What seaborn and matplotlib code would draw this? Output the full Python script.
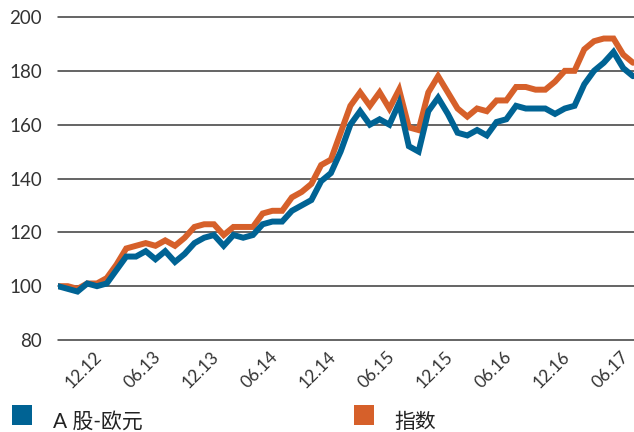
import matplotlib
matplotlib.use("Agg")
import matplotlib.pyplot as plt
import matplotlib.transforms as mtransforms
from matplotlib.lines import Line2D
import numpy as np
import pandas as pd
import seaborn as sns

# Monthly index levels, Aug 2012 - Jul 2017 (rebased to 100)
a_share_eur = [100, 99, 98, 101, 100, 101, 106, 111, 111, 113,
               110, 113, 109, 112, 116, 118, 119, 115, 119, 118,
               119, 123, 124, 124, 128, 130, 132, 139, 142, 150,
               160, 165, 160, 162, 160, 168, 152, 150, 165, 170,
               164, 157, 156, 158, 156, 161, 162, 167, 166, 166,
               166, 164, 166, 167, 175, 180, 183, 187, 181, 178]
index_level = [100, 100, 99, 101, 101, 103, 108, 114, 115, 116,
               115, 117, 115, 118, 122, 123, 123, 119, 122, 122,
               122, 127, 128, 128, 133, 135, 138, 145, 147, 157,
               167, 172, 167, 172, 166, 173, 159, 158, 172, 178,
               172, 166, 163, 166, 165, 169, 169, 174, 174, 173,
               173, 176, 180, 180, 188, 191, 192, 192, 186, 183]

series_names = ["A 股-欧元", "指数"]
series_colors = ["#006394", "#D6602A"]

tick_labels = ["12.12", "06.13", "12.13", "06.14", "12.14",
               "06.15", "12.15", "06.16", "12.16", "06.17"]
first_tick_month = 4   # Dec 2012 is the 5th month of the series
tick_step = 6
y_ticks = [80, 100, 120, 140, 160, 180, 200]

months = np.arange(len(a_share_eur))
df = pd.DataFrame({
    "month": np.concatenate([months, months]),
    "value": a_share_eur + index_level,
    "series": [series_names[0]] * len(months) + [series_names[1]] * len(months),
})

sns.set_style("white")
plt.rcParams["font.family"] = ["Lato", "Noto Sans CJK SC", "DejaVu Sans"]

fig = plt.figure(figsize=(6.34, 4.32), dpi=100)
ax = fig.add_axes([58 / 634, 1 - 340 / 432, 576 / 634, 323 / 432])

palette = dict(zip(series_names, series_colors))
# draw the index first so the A-share line sits on top
sns.lineplot(data=df, x="month", y="value", hue="series",
             hue_order=[series_names[1], series_names[0]],
             palette=palette, linewidth=4.3, legend=False, ax=ax,
             solid_joinstyle="miter", zorder=3)

ax.set_xlim(0, (len(months) - 1) * 576 / 575)
ax.set_ylim(80, 200)
ax.set_yticks(y_ticks)
ax.yaxis.grid(True, color="#3a3a3a", linewidth=1.1)
ax.xaxis.grid(False)
for g in ax.get_ygridlines():
    g.set_clip_on(False)
for s in ax.spines.values():
    s.set_visible(False)
ax.set_xlabel("")
ax.set_ylabel("")

tick_pos = [first_tick_month + tick_step * k for k in range(len(tick_labels))]
ax.set_xticks(tick_pos)
ax.set_xticklabels(tick_labels, rotation=45, ha="right", va="top",
                   rotation_mode="anchor", fontsize=12.5, color="#333333")
ax.tick_params(axis="x", length=0, pad=6)
ax.tick_params(axis="y", length=0, pad=11.5, labelsize=13.5, labelcolor="#333333")

shift = mtransforms.ScaledTranslation(-3 / 100, 0, fig.dpi_scale_trans)
for lbl in ax.get_xticklabels():
    lbl.set_transform(lbl.get_transform() + shift)

handles = [Line2D([], [], linestyle="none", marker="s", markersize=13.7,
                  markerfacecolor=c, markeredgecolor=c, markeredgewidth=0)
           for c in series_colors]
leg = fig.legend(handles, series_names, loc="center left",
                 bbox_to_anchor=(12 / 634, 1 - 421.5 / 432), ncol=2,
                 frameon=False, fontsize=15, handlelength=1.0,
                 handleheight=2.4, handletextpad=0.97, columnspacing=10.1,
                 borderpad=0, borderaxespad=0)
for t in leg.get_texts():
    t.set_color("#222222")

fig.savefig("out.png", dpi=100)
